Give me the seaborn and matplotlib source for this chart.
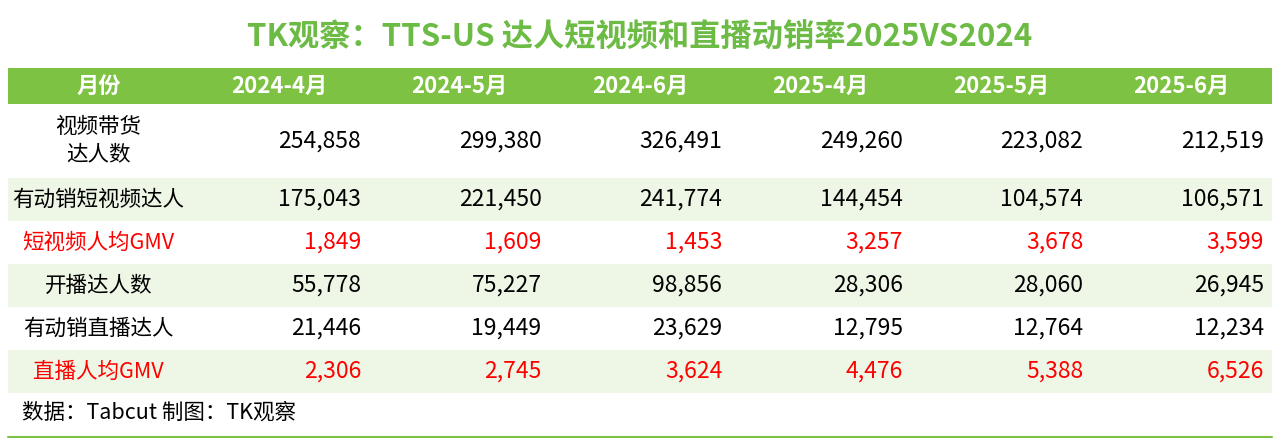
import numpy as np
import seaborn as sns
import matplotlib.pyplot as plt
from matplotlib.colors import ListedColormap

sns.set_theme(style="white")
plt.rcParams["font.family"] = ["Noto Sans CJK SC", "DejaVu Sans"]

TITLE = "TK观察：TTS-US 达人短视频和直播动销率2025VS2024"
HEADER = ["月份", "2024-4月", "2024-5月", "2024-6月", "2025-4月", "2025-5月", "2025-6月"]
ROW_LABELS = ["视频带货\n达人数", "有动销短视频达人", "短视频人均GMV",
              "开播达人数", "有动销直播达人", "直播人均GMV"]
video_creators = [254858, 299380, 326491, 249260, 223082, 212519]
video_active = [175043, 221450, 241774, 144454, 104574, 106571]
video_gmv = [1849, 1609, 1453, 3257, 3678, 3599]
live_creators = [55778, 75227, 98856, 28306, 28060, 26945]
live_active = [21446, 19449, 23629, 12795, 12764, 12234]
live_gmv = [2306, 2745, 3624, 4476, 5388, 6526]
ROWS = [video_creators, video_active, video_gmv, live_creators, live_active, live_gmv]
RED_ROWS = {2, 5}

GREEN = "#7DC242"
TINT = "#EEF6E6"
RED = "#FF0000"
W, H = 1280, 442

fig = plt.figure(figsize=(W / 100, H / 100), dpi=100)
fig.text(0.5, 1 - 38 / H, TITLE, ha="center", va="center", fontsize=22.5,
         fontweight="bold", color="#6CBB45")

# row bands in pixels (top, bottom)
bands = [(68, 104), (104, 178), (178, 221), (221, 264), (264, 307), (307, 350), (350, 393)]
x0, x1 = 8, 1272

for i, (top, bot) in enumerate(bands):
    ax = fig.add_axes([x0 / W, 1 - bot / H, (x1 - x0) / W, (bot - top) / H])
    if i == 0:
        color = GREEN
    else:
        color = TINT if i % 2 == 0 else "white"
    sns.heatmap(np.zeros((1, 7)), cmap=ListedColormap([color]), cbar=False,
                xticklabels=False, yticklabels=False, ax=ax, linewidths=0)
    ax.set_xlim(0, 7)
    ax.set_ylim(1, 0)
    if i == 0:
        for j, h in enumerate(HEADER):
            ax.text(j + 0.5, 0.5, h, ha="center", va="center", color="white",
                    fontsize=16, fontweight="bold")
        continue
    r = i - 1
    tc = RED if r in RED_ROWS else "black"
    ax.text(0.5, 0.5, ROW_LABELS[r], ha="center", va="center", color=tc,
            fontsize=15.5, linespacing=1.3)
    for j, v in enumerate(ROWS[r]):
        ax.text(j + 2 - 0.045, 0.5, f"{v:,}", ha="right", va="center",
                color=tc, fontsize=16.5)

fig.text(22 / W, 1 - 413 / H, "数据：Tabcut 制图：TK观察", ha="left", va="center",
         fontsize=15.5, color="black")
fig.add_artist(plt.Line2D([x0 / W, x1 / W], [1 - 437 / H, 1 - 437 / H],
                          color=GREEN, lw=1.5))

fig.savefig("out.png", dpi=100)
